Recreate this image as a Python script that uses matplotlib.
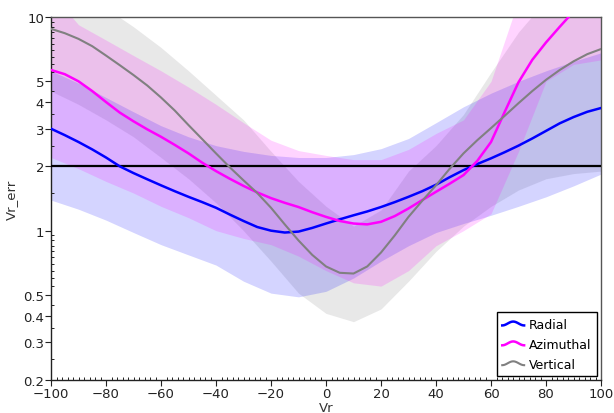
import numpy as np
import matplotlib
matplotlib.use("Agg")
import matplotlib.pyplot as plt
from matplotlib.legend_handler import HandlerBase
from matplotlib.lines import Line2D
from matplotlib.ticker import FixedLocator, MultipleLocator, NullFormatter, LogLocator

# ---- data ----
vr_line = list(range(-100, 101, 5))
radial = [3.0, 2.8, 2.6, 2.4, 2.2, 2.0, 1.86, 1.74, 1.63, 1.53, 1.44, 1.36, 1.28, 1.19, 1.11,
          1.04, 1.0, 0.98, 0.99, 1.03, 1.08, 1.13, 1.18, 1.23, 1.29, 1.36, 1.44, 1.53, 1.64,
          1.78, 1.92, 2.05, 2.18, 2.33, 2.5, 2.7, 2.93, 3.18, 3.4, 3.6, 3.75]
azimuthal = [5.65, 5.4, 5.0, 4.5, 4.0, 3.57, 3.25, 2.98, 2.75, 2.52, 2.3, 2.08, 1.9, 1.75, 1.62,
             1.51, 1.42, 1.35, 1.29, 1.22, 1.16, 1.11, 1.08, 1.07, 1.10, 1.17, 1.27, 1.39, 1.52,
             1.66, 1.82, 2.12, 2.6, 3.6, 4.95, 6.3, 7.6, 9.0, 10.6, 12.3, 14.0]
vertical = [8.8, 8.4, 7.9, 7.3, 6.6, 5.95, 5.35, 4.78, 4.2, 3.65, 3.12, 2.68, 2.3, 1.98, 1.72,
            1.5, 1.28, 1.07, 0.9, 0.77, 0.68, 0.635, 0.63, 0.68, 0.79, 0.95, 1.16, 1.38, 1.63,
            1.95, 2.3, 2.65, 3.02, 3.45, 3.95, 4.5, 5.08, 5.65, 6.2, 6.7, 7.08]

vr_band = list(range(-100, 101, 10))
radial_lo = [1.39, 1.26, 1.12, 0.98, 0.86, 0.77, 0.69, 0.58, 0.51, 0.49, 0.52, 0.60, 0.72, 0.85,
             0.98, 1.08, 1.18, 1.30, 1.44, 1.62, 1.84]
radial_hi = [5.6, 4.9, 4.2, 3.6, 3.1, 2.75, 2.5, 2.35, 2.25, 2.2, 2.2, 2.27, 2.42, 2.7, 3.2,
             3.8, 4.4, 5.0, 5.6, 6.2, 6.8]
azim_lo = [2.2, 1.95, 1.7, 1.5, 1.3, 1.15, 1.0, 0.92, 0.86, 0.76, 0.65, 0.57, 0.55, 0.65, 0.85,
           1.0, 1.2, 2.35, 5.0, 6.0, 6.3]
azim_hi = [13, 9.2, 7.8, 6.6, 5.6, 4.7, 3.9, 3.2, 2.65, 2.37, 2.25, 2.15, 2.15, 2.4, 2.85, 3.3,
           5.0, 12, 20, 25, 30]
vert_lo = [4.5, 3.9, 3.3, 2.75, 2.2, 1.75, 1.35, 1.0, 0.72, 0.51, 0.41, 0.375, 0.43, 0.58, 0.8,
           1.05, 1.3, 1.55, 1.75, 1.85, 1.9]
vert_hi = [14, 12.5, 11, 9, 7.2, 5.6, 4.3, 3.3, 2.35, 1.7, 1.3, 1.05, 1.25, 1.9, 2.5, 3.5, 5.5,
           8.5, 12, 14, 16]

threshold = 2.0
series_names = ["Radial", "Azimuthal", "Vertical"]
colors = ["#0000ff", "#ff00ff", "#808080"]
yticks = [0.2, 0.3, 0.4, 0.5, 1, 2, 3, 4, 5, 10]
ytick_labels = ["0.2", "0.3", "0.4", "0.5", "1", "2", "3", "4", "5", "10"]
xticks = list(range(-100, 101, 20))


class HandlerWave(HandlerBase):
    def create_artists(self, legend, orig_handle, xdescent, ydescent, width, height, fontsize, trans):
        t = np.linspace(0, 1, 40)
        xs = -xdescent + t * width
        ys = -ydescent + height / 2 - height * 0.22 * np.cos(2 * np.pi * t)
        ln = Line2D(xs, ys, color=orig_handle.get_color(), lw=orig_handle.get_linewidth())
        ln.set_transform(trans)
        return [ln]


fig = plt.figure(figsize=(6.14, 4.14), dpi=100)
ax = fig.add_axes([51 / 614, 1 - 381 / 414, 550 / 614, 363 / 414])

bands = [(vert_lo, vert_hi, (0.47, 0.47, 0.47)),
         (radial_lo, radial_hi, (0, 0, 1)),
         (azim_lo, azim_hi, (1, 0, 1))]
for lo, hi, c in bands:
    ax.fill_between(vr_band, lo, hi, color=c, alpha=0.17, lw=0)

ax.axhline(threshold, color="black", lw=1.6, zorder=3)

handles = []
for vals, c, name in zip([radial, azimuthal, vertical], colors, series_names):
    lw = 1.5 if name == "Vertical" else 1.8
    h, = ax.plot(vr_line, vals, color=c, lw=lw, label=name, zorder=4)
    handles.append(h)

ax.set_yscale("log")
ax.set_xlim(-100, 100)
ax.set_ylim(0.2, 10)
ax.yaxis.set_major_locator(FixedLocator(yticks))
ax.set_yticklabels(ytick_labels)
ax.yaxis.set_minor_locator(LogLocator(base=10, subs=np.arange(1, 10, 0.5), numticks=20))
ax.yaxis.set_minor_formatter(NullFormatter())
ax.xaxis.set_major_locator(FixedLocator(xticks))
ax.xaxis.set_minor_locator(MultipleLocator(2))

ax.tick_params(which="major", direction="out", length=4, width=0.8, labelsize=9.5,
               colors="#222222", pad=1)
ax.tick_params(which="minor", direction="in", length=2.5, width=0.7, colors="#222222")
for s in ax.spines.values():
    s.set_color("#555555")
    s.set_linewidth(1.0)
ax.spines["left"].set_color("#222222")
ax.spines["bottom"].set_color("#222222")

ax.set_xlabel("Vr", fontsize=9.5, color="#333333")
ax.xaxis.set_label_coords(0.5, -0.058)
ax.set_ylabel("Vr_err", fontsize=9.5, color="#333333")
ax.yaxis.set_label_coords(-0.060, 0.5)

leg = ax.legend(handles=handles, loc="lower right", fontsize=9, frameon=True, fancybox=False,
                edgecolor="black", framealpha=1, handler_map={Line2D: HandlerWave()},
                handlelength=1.75, borderpad=0.45, labelspacing=0.55, handletextpad=0.4,
                borderaxespad=0.3)
leg.get_frame().set_linewidth(1.0)

fig.savefig("out.png", dpi=100)
